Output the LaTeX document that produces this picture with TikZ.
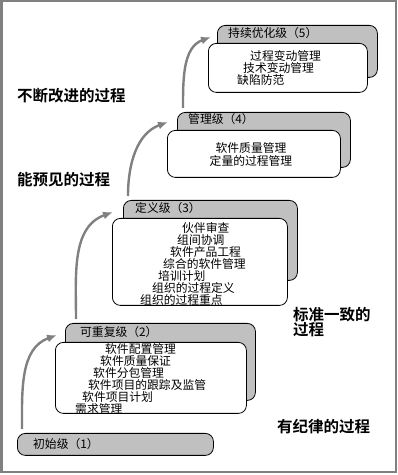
\documentclass[tikz,border=0pt]{standalone}
\usepackage{fontspec}
\newfontfamily\cjk{Noto Sans CJK SC}[BoldFont={Noto Sans CJK SC Bold}]
\usepackage{xcolor}
\definecolor{cmmgray}{HTML}{C0C0C0}
\definecolor{cmmline}{HTML}{808080}
\usepackage{tikz}
\usetikzlibrary{arrows.meta,positioning,calc}

\begin{document}
\begin{tikzpicture}[
  x=1pt,y=1pt,
  font=\cjk\fontsize{11.8}{12}\selectfont,
  tab/.style={draw=black,line width=0.8pt,fill=cmmgray,rounded corners=8pt,
    anchor=north west,inner sep=0pt},
  body/.style={draw=black,line width=0.8pt,fill=white,rounded corners=8pt,
    anchor=north west,inner sep=0pt},
  title/.style={anchor=west,inner sep=0pt},
  items/.style={anchor=north west,align=left,inner sep=0pt},
  stage/.style={font=\cjk\bfseries\fontsize{15.5}{14}\selectfont,inner sep=0pt,align=left},
  arr/.style={-{Latex[length=10pt,width=8pt]},cmmline,line width=2.4pt}
]
\useasboundingbox (0,0) rectangle (398,475);
\draw[cmmline,line width=2.5pt] (1.25,3) rectangle (396,473.75);

% Level 1
\node[tab,minimum width=196pt,minimum height=22pt] (tab1) at (17,42) {};
\node[title] (title1) at ([shift={(16,-11)}]tab1.north west) {初始级（1）};

% Level 2
\node[tab,minimum width=190pt,minimum height=77pt] (tab2) at (65,152) {};
\node[title] (title2) at ([shift={(15,-9)}]tab2.north west) {可重复级（2）};
\node[body,minimum width=191pt,minimum height=71pt] (body2) at (55,133) {};
\node[items] (items2) at ([shift={(20,-1)}]body2.north west) {%
  \hspace*{30pt}软件配置管理\\
  \hspace*{25pt}软件质量保证\\
  \hspace*{18pt}软件分包管理\\
  \hspace*{13pt}软件项目的跟踪及监管\\
  \hspace*{7pt}软件项目计划\\
  需求管理};

% Level 3
\node[tab,minimum width=174pt,minimum height=80pt] (tab3) at (123,275) {};
\node[title] (title3) at ([shift={(12,-8)}]tab3.north west) {定义级（3）};
\node[body,minimum width=175pt,minimum height=87pt] (body3) at (112,257) {};
\node[items] (items3) at ([shift={(28,-4)}]body3.north west) {%
  \hspace*{42pt}伙伴审查\\
  \hspace*{37pt}组间协调\\
  \hspace*{30pt}软件产品工程\\
  \hspace*{23pt}综合的软件管理\\
  \hspace*{18pt}培训计划\\
  \hspace*{12pt}组织的过程定义\\
  组织的过程重点};

% Level 4
\node[tab,minimum width=173pt,minimum height=55pt] (tab4) at (177,363) {};
\node[title] (title4) at ([shift={(11,-7)}]tab4.north west) {管理级（4）};
\node[body,minimum width=173pt,minimum height=47pt] (body4) at (167,345) {};
\node[items,anchor=north,align=center,font=\cjk\fontsize{11.8}{13}\selectfont]
  (items4) at ([shift={(84,-12)}]body4.north west) {软件质量管理\\定量的过程管理};

% Level 5
\node[tab,minimum width=160pt,minimum height=52pt] (tab5) at (217,450) {};
\node[title] (title5) at ([shift={(11,-8)}]tab5.north west) {持续优化级（5）};
\node[body,minimum width=159pt,minimum height=49pt] (body5) at (208,432) {};
\node[items] (items5) at ([shift={(29,-7)}]body5.north west) {%
  \hspace*{13pt}过程变动管理\\
  \hspace*{6pt}技术变动管理\\
  缺陷防范};

% arrows between levels
\coordinate (s1) at ([shift={(5,4)}]tab1.north west);
\coordinate (e1) at ([shift={(-8,-12)}]tab2.north west);
\coordinate (s2) at ([shift={(11,4)}]tab2.north west);
\coordinate (e2) at ([shift={(-10,-12)}]tab3.north west);
\coordinate (s3) at ([shift={(5,4)}]tab3.north west);
\coordinate (e3) at ([shift={(-9,-10)}]tab4.north west);
\coordinate (s4) at ([shift={(6,4)}]tab4.north west);
\coordinate (e4) at ([shift={(-6,-12)}]tab5.north west);
\draw[arr] (s1) to[out=90,in=200] (e1);
\draw[arr] (s2) to[out=90,in=200] (e2);
\draw[arr] (s3) to[out=90,in=200] (e3);
\draw[arr] (s4) to[out=90,in=200] (e4);

% process labels
\node[stage,anchor=west] (kaizen) at (17,379) {不断改进的过程};
\node[stage,anchor=west] (yujian) at (17,295) {能预见的过程};
\node[stage,anchor=north west] (biaozhun) at (293,168) {标准一致的\\过程};
\node[stage,anchor=west] (jilv) at (277,48) {有纪律的过程};
\end{tikzpicture}
\end{document}
